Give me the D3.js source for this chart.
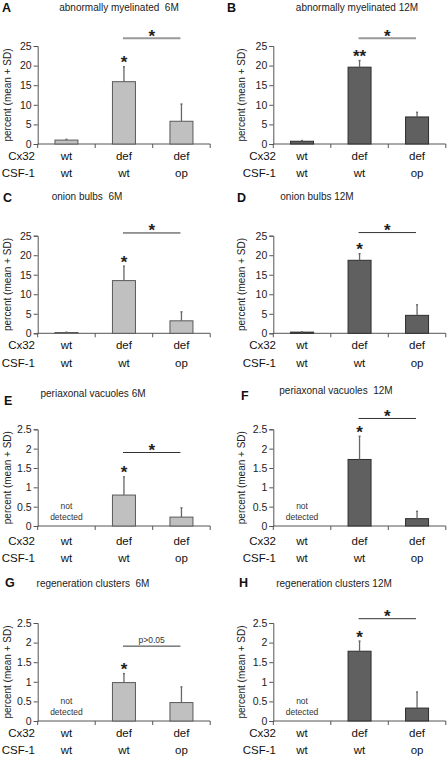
<!DOCTYPE html>
<html>
<head>
<meta charset="utf-8">
<script src="https://cdn.jsdelivr.net/npm/d3@7"></script>
<style>
html,body{margin:0;padding:0;background:#fff;}
svg{display:block;font-family:Arial,"Liberation Sans",sans-serif;}
text{white-space:pre;}
</style>
</head>
<body>
<svg id="chart" width="448" height="757"></svg>
<script>
// ---------- data ----------
const cx32Labels = ["wt", "def", "def"];
const csf1Labels = ["wt", "wt", "op"];
const groups = ["wt/wt", "def/wt", "def/op"];

const panelLetters = ["A", "B", "C", "D", "E", "F", "G", "H"];
const panelTitles = [
  "abnormally myelinated  6M", "abnormally myelinated 12M",
  "onion bulbs  6M", "onion bulbs 12M",
  "periaxonal vacuoles 6M", "periaxonal vacuoles  12M",
  "regeneration clusters  6M", "regeneration clusters 12M"
];
// mean values per group (null = not detected)
const meansA = [1.0, 15.9, 5.8],   sdA = [0.2, 3.8, 4.4];
const meansB = [0.7, 19.6, 6.9],   sdB = [0.2, 1.7, 1.2];
const meansC = [0.2, 13.5, 3.2],   sdC = [0.1, 3.7, 2.3];
const meansD = [0.3, 18.7, 4.6],   sdD = [0.1, 1.7, 2.7];
const meansE = [null, 0.8, 0.23],  sdE = [null, 0.47, 0.24];
const meansF = [null, 1.72, 0.19], sdF = [null, 0.6, 0.19];
const meansG = [null, 0.98, 0.47], sdG = [null, 0.23, 0.4];
const meansH = [null, 1.78, 0.33], sdH = [null, 0.26, 0.41];

const yMaxTop = 25, yTicksTop = [0, 5, 10, 15, 20, 25];
const yMaxBottom = 2.5, yTicksBottom = [0, 0.5, 1, 1.5, 2, 2.5];

// significance vs. wt/wt (on def/wt bar) and bracket def/wt vs def/op
const barStars = ["*", "**", "*", "*", "*", "*", "*", "*"];
const bracketLabels = ["*", "*", "*", "*", "*", "*", "p>0.05", "*"];
const bracketLevels = [27, 27, 25.7, 25.8, 1.9, 2.78, 1.91, 2.61];

const yAxisTitle = "percent (mean + SD)";
const notDetected = ["not", "detected"];

// ---------- layout ----------
const panels = [
  {m: meansA, s: sdA, ymax: yMaxTop, ticks: yTicksTop},
  {m: meansB, s: sdB, ymax: yMaxTop, ticks: yTicksTop},
  {m: meansC, s: sdC, ymax: yMaxTop, ticks: yTicksTop},
  {m: meansD, s: sdD, ymax: yMaxTop, ticks: yTicksTop},
  {m: meansE, s: sdE, ymax: yMaxBottom, ticks: yTicksBottom},
  {m: meansF, s: sdF, ymax: yMaxBottom, ticks: yTicksBottom},
  {m: meansG, s: sdG, ymax: yMaxBottom, ticks: yTicksBottom},
  {m: meansH, s: sdH, ymax: yMaxBottom, ticks: yTicksBottom}
];
const colX = [37.7, 273.3];
const plotW = 172.5;
const rowY = [[46, 144], [235.7, 333.3], [429.3, 526], [623, 721]];
const labelOffset = [15.5, 16, 18.5, 16];
const labelGap = [17.5, 17.5, 17.5, 16.5];
const letterPos = [[2, 12], [227, 12], [3, 202], [237, 202], [4, 405], [241, 400], [5, 587], [239, 587]];
const titlePos = [[119, 10.5], [357, 10.5], [87, 200], [317, 200], [93, 397], [336, 394], [93, 587], [334, 587]];

const svg = d3.select("#chart");

panels.forEach((p, i) => {
  const col = i % 2, row = Math.floor(i / 2);
  const left = col === 0;
  const x0 = colX[col], x1 = x0 + plotW;
  const [yTop, yBot] = rowY[row];
  const fill = left ? "#c0c0c0" : "#606060";
  const stroke = left ? "#5a5a5a" : "#2e2e2e";

  const x = d3.scaleBand().domain(groups).range([x0, x1]).paddingInner(0.6).paddingOuter(0.3);
  const y = d3.scaleLinear().domain([0, p.ymax]).range([yBot, yTop]);
  const g = svg.append("g");

  // panel letter and title
  g.append("text").attr("x", letterPos[i][0]).attr("y", letterPos[i][1])
    .attr("font-size", 12.5).attr("font-weight", "bold").attr("fill", "#111").text(panelLetters[i]);
  g.append("text").attr("x", titlePos[i][0]).attr("y", titlePos[i][1])
    .attr("text-anchor", "middle").attr("font-size", 10).attr("fill", "#222").text(panelTitles[i]);

  // y axis
  const yAxis = d3.axisLeft(y).tickValues(p.ticks).tickSize(4).tickPadding(2)
    .tickFormat(d => String(d));
  const ya = g.append("g").attr("transform", `translate(${x0},0)`).call(yAxis);
  ya.select(".domain").attr("stroke", "#555");
  ya.selectAll(".tick line").attr("stroke", "#555");
  ya.selectAll(".tick text").attr("font-size", 10.5).attr("fill", "#222")
    .attr("font-family", "Arial, 'Liberation Sans', sans-serif");

  // x axis: ticks at group boundaries
  const boundaries = d3.range(groups.length + 1).map(k => x0 + k * x.step());
  g.append("line").attr("x1", x0).attr("x2", x1).attr("y1", yBot).attr("y2", yBot)
    .attr("stroke", "#555");
  g.selectAll(".xt").data(boundaries).enter().append("line")
    .attr("x1", d => d).attr("x2", d => d).attr("y1", yBot).attr("y2", yBot + 4)
    .attr("stroke", "#555");

  // y axis title
  const ytx = left ? 11 : 245;
  g.append("text").attr("transform", `translate(${ytx},${(yTop + yBot) / 2}) rotate(-90)`)
    .attr("text-anchor", "middle").attr("font-size", 10).attr("fill", "#222").text(yAxisTitle);

  // bars
  const data = groups.map((gr, k) => ({g: gr, m: p.m[k], s: p.s[k]}));
  const present = data.filter(d => d.m !== null);
  g.selectAll(".bar").data(present).enter().append("rect")
    .attr("x", d => x(d.g)).attr("width", x.bandwidth())
    .attr("y", d => y(d.m)).attr("height", d => y(0) - y(d.m))
    .attr("fill", fill).attr("stroke", stroke).attr("stroke-width", 1);
  // error bars (mean + SD)
  g.selectAll(".err").data(present).enter().append("line")
    .attr("x1", d => x(d.g) + x.bandwidth() / 2).attr("x2", d => x(d.g) + x.bandwidth() / 2)
    .attr("y1", d => y(d.m)).attr("y2", d => y(d.m + d.s))
    .attr("stroke", "#666").attr("stroke-width", 1.3);
  g.selectAll(".cap").data(present).enter().append("line")
    .attr("x1", d => x(d.g) + x.bandwidth() / 2 - 1).attr("x2", d => x(d.g) + x.bandwidth() / 2 + 1)
    .attr("y1", d => y(d.m + d.s)).attr("y2", d => y(d.m + d.s))
    .attr("stroke", "#666").attr("stroke-width", 1.3);

  // not detected
  data.filter(d => d.m === null).forEach(d => {
    const cx = x(d.g) + x.bandwidth() / 2;
    notDetected.forEach((t, j) => {
      g.append("text").attr("x", cx).attr("y", yBot - 17 + j * 10.7)
        .attr("text-anchor", "middle").attr("font-size", 8.5).attr("fill", "#333").text(t);
    });
  });

  // star on def/wt bar
  const dw = data[1];
  g.append("text").attr("x", x(dw.g) + x.bandwidth() / 2).attr("y", y(dw.m + dw.s) + 1.5)
    .attr("text-anchor", "middle").attr("font-size", 17).attr("font-weight", "bold")
    .attr("fill", "#222").text(barStars[i]);

  // bracket
  const bx1 = x(groups[1]) + x.bandwidth() / 2 - 1;
  const bx2 = x(groups[2]) + x.bandwidth() / 2 - 1;
  const by = y(bracketLevels[i]);
  const gray = row === 0;
  g.append("line").attr("x1", bx1).attr("x2", bx2).attr("y1", by).attr("y2", by)
    .attr("stroke", gray ? "#999" : "#333").attr("stroke-width", gray ? 2 : 1);
  if (bracketLabels[i] === "*") {
    g.append("text").attr("x", (bx1 + bx2) / 2).attr("y", by + 3.5)
      .attr("text-anchor", "middle").attr("font-size", 17).attr("font-weight", "bold")
      .attr("fill", "#222").text(bracketLabels[i]);
  } else {
    g.append("text").attr("x", (bx1 + bx2) / 2).attr("y", by - 3)
      .attr("text-anchor", "middle").attr("font-size", 8.5).attr("fill", "#333").text(bracketLabels[i]);
  }

  // category labels
  const lb1 = yBot + labelOffset[row], lb2 = lb1 + labelGap[row];
  const lx = left ? 35 : 276;
  g.append("text").attr("x", lx).attr("y", lb1).attr("text-anchor", "end")
    .attr("font-size", 11.5).attr("fill", "#111").text("Cx32");
  g.append("text").attr("x", lx).attr("y", lb2).attr("text-anchor", "end")
    .attr("font-size", 11.5).attr("fill", "#111").text("CSF-1");
  groups.forEach((gr, k) => {
    const cx = x(gr) + x.bandwidth() / 2;
    g.append("text").attr("x", cx).attr("y", lb1).attr("text-anchor", "middle")
      .attr("font-size", 11.5).attr("fill", "#111").text(cx32Labels[k]);
    g.append("text").attr("x", cx).attr("y", lb2).attr("text-anchor", "middle")
      .attr("font-size", 11.5).attr("fill", "#111").text(csf1Labels[k]);
  });
});
</script>
</body>
</html>
